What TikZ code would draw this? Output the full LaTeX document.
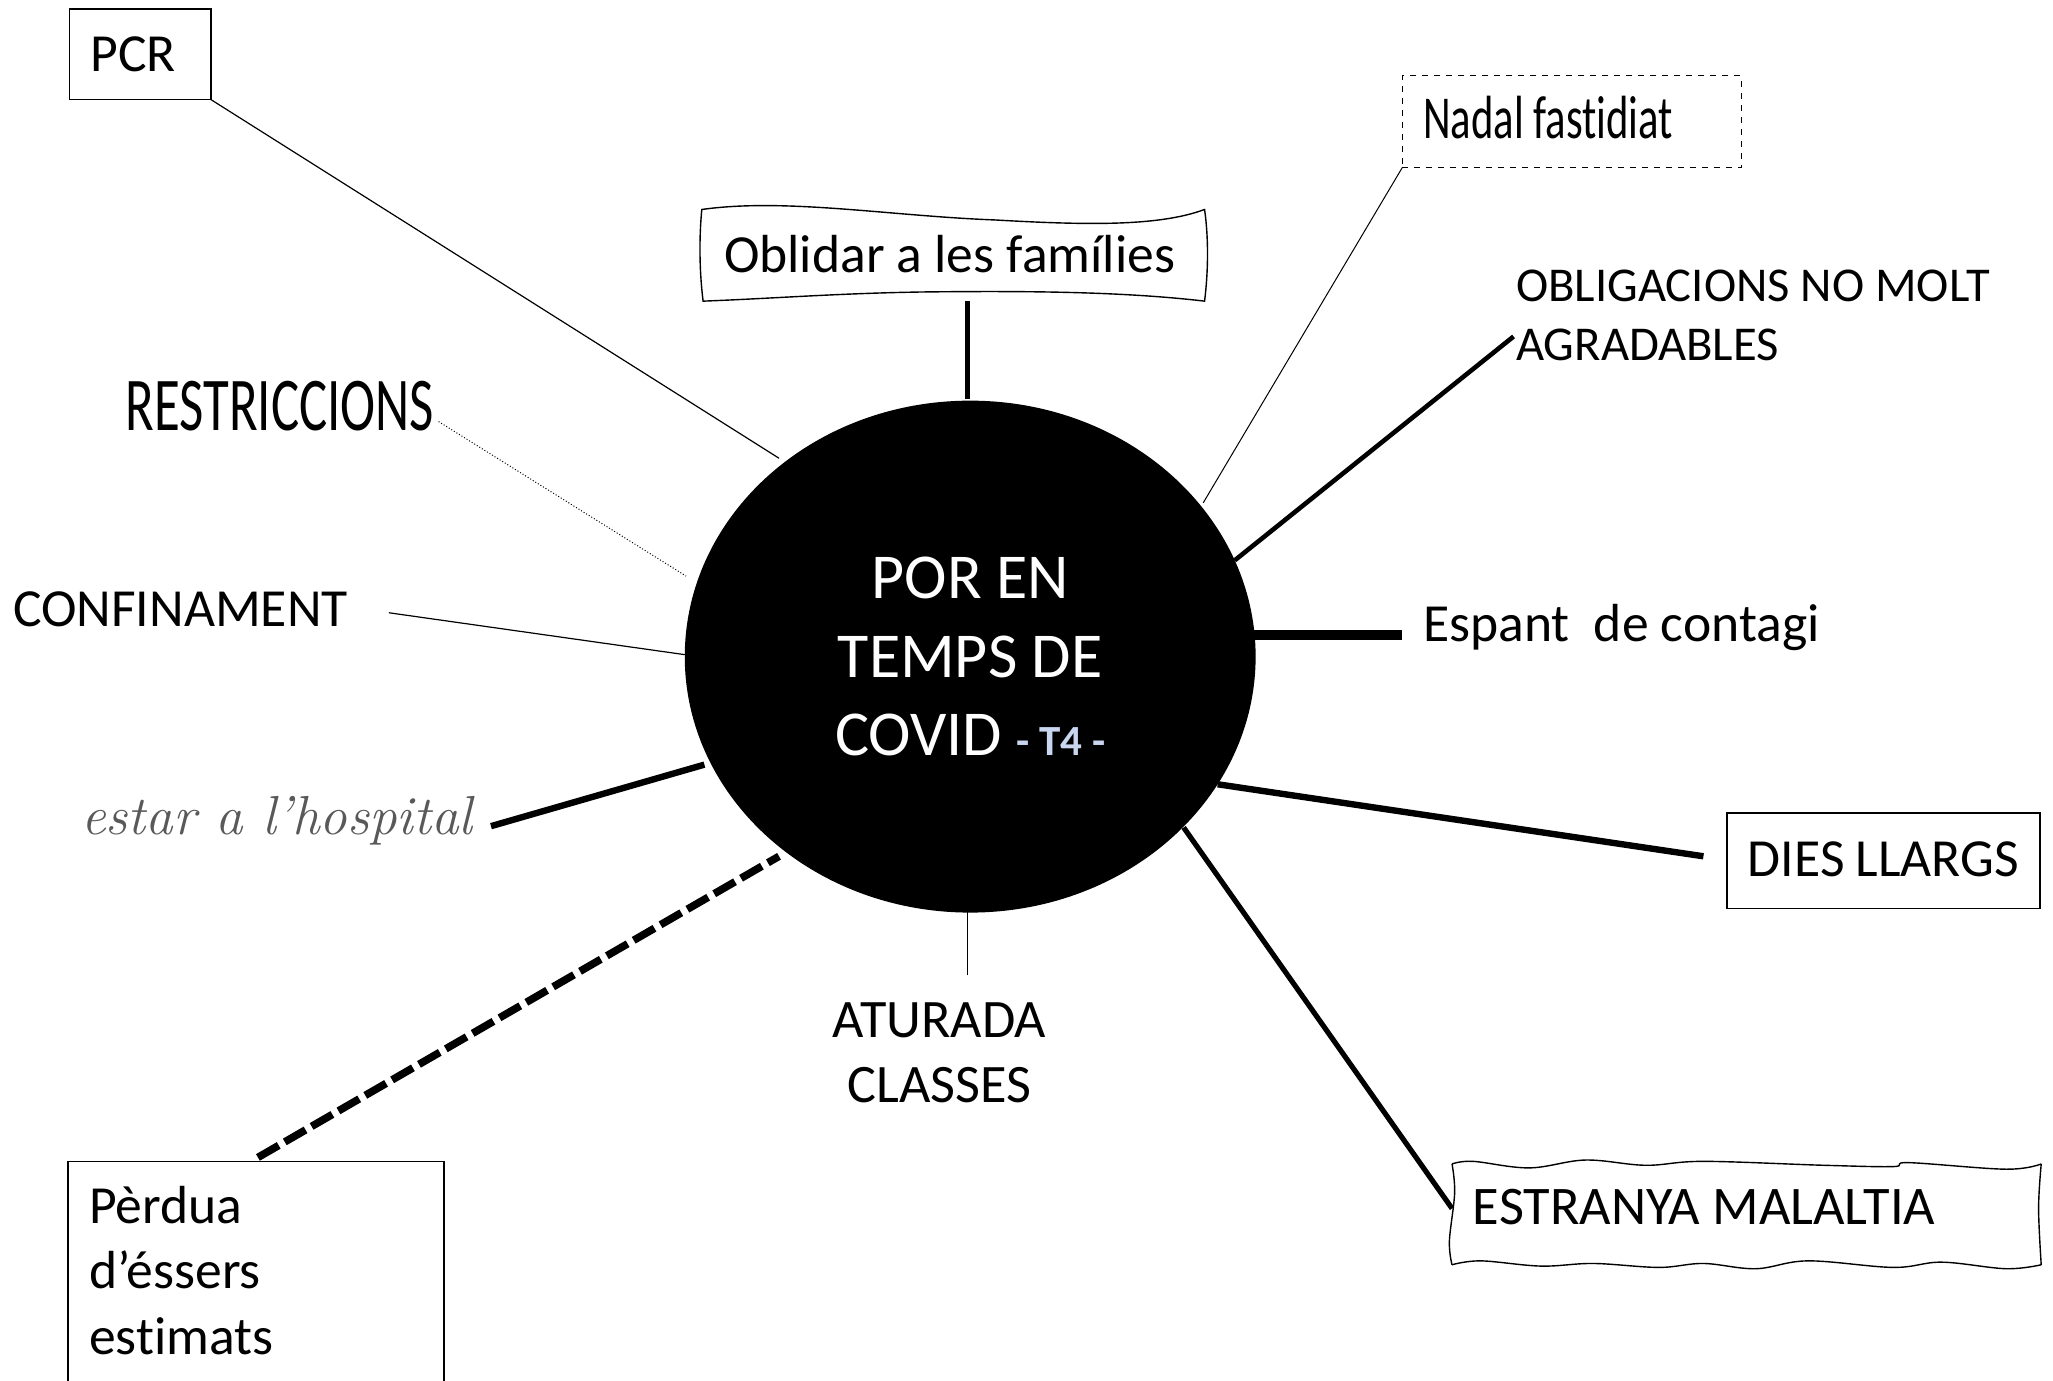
\documentclass[tikz,border=0pt]{standalone}
\usepackage{fontspec}
\usetikzlibrary{shapes.geometric}
\newfontfamily\calfont[Ligatures=NoCommon]{Carlito}
\newfontfamily\narrowfont[FakeStretch=0.70,Ligatures=NoCommon]{Carlito}
\newfontfamily\handfont[FakeStretch=0.695,Ligatures=NoCommon]{Carlito}
\newcommand{\cursfont}{\rmfamily\itshape\addfontfeatures{LetterSpace=6}}
\newcommand{\uu}{0.65466pt}
\definecolor{tfour}{HTML}{C9D6F0}
\tikzset{
  every node/.style={inner sep=0pt,outer sep=0pt},
  label text/.style={anchor=west,align=flush left,text=black,font=\calfont\fontsize{26.8}{32.8}\selectfont},
  boxed/.style={draw=black,line width=0.7pt,rectangle},
  hairline/.style={draw=black,line width=0.6pt},
  medline/.style={draw=black,line width=2.3pt},
  heavyline/.style={draw=black,line width=3.2pt},
  wavy outline/.style={line width=0.7pt},
}
\begin{document}
\begin{tikzpicture}[x=\uu,y=-\uu]
\useasboundingbox (0,0) rectangle (1568,1054.7);
\clip (0,0) rectangle (1568,1054.7);
% hub
\node[ellipse,fill=black,minimum width=436*\uu,minimum height=391*\uu,align=center,text=white,
  font=\calfont\fontsize{32}{39.4}\selectfont] (hub) at (741,501.5)
  {POR EN\\TEMPS DE\\COVID {\fontsize{21.5}{21.5}\selectfont\bfseries\color{tfour} - T4 -}};
% boxed labels
\node[boxed,label text,anchor=north west,minimum width=108*\uu,minimum height=69*\uu,text width=76*\uu,inner xsep=16*\uu] (pcr) at (53,7) {PCR};
\node[boxed,label text,anchor=north west,dashed,line width=0.5pt,minimum width=259*\uu,minimum height=70*\uu,text width=227*\uu,inner xsep=16*\uu,font=\narrowfont\fontsize{30.5}{30}\selectfont] (nadal) at (1071,58) {Nadal fastidiat\\[-25.2pt]\mbox{}};
\node[boxed,label text,anchor=north west,minimum width=239*\uu,minimum height=73*\uu,text width=207*\uu,inner xsep=16*\uu] (dies) at (1319,621) {DIES LLARGS\\[-31.5pt]\mbox{}};
\node[boxed,label text,anchor=north west,minimum width=287*\uu,minimum height=180*\uu,text width=255*\uu,inner xsep=16*\uu] (perdua) at (52,887) {P\`erdua\\d’\'essers\\estimats\\[-23.8pt]\mbox{}};
% wavy boxes
\draw[wavy outline] (536,160) .. controls (600,151) and (680,165) .. (760,168)
  .. controls (830,172) and (885,173) .. (920,160)
  .. controls (923,181) and (923,206) .. (920,230)
  .. controls (860,223) and (790,222) .. (705,223)
  .. controls (640,224) and (590,228) .. (537,230)
  .. controls (534,206) and (534,181) .. (536,160) -- cycle;
\begin{scope}[yshift=-0.65pt,xshift=0.65pt]
\draw[wavy outline] plot[smooth,tension=.6] coordinates {(1108,888)(1124,886)(1167,891)(1210,885)(1256,889)(1300,886)(1392,889)(1445,890)(1457,887)(1531,892)(1558,888)};
\draw[wavy outline] plot[smooth,tension=.6] coordinates {(1108,965)(1130,962)(1176,966)(1216,964)(1266,967)(1300,964)(1340,968)(1380,962)(1445,967)(1482,963)(1531,968)(1558,965)};
\draw[wavy outline] plot[smooth,tension=.6] coordinates {(1108,888)(1110,910)(1106,947)(1108,965)};
\draw[wavy outline] plot[smooth,tension=.6] coordinates {(1558,888)(1556,922)(1558,965)};
\end{scope}
\node[label text] (oblidar) at (553,194) {Oblidar a les fam\'ilies};
\node[label text,font=\calfont\fontsize{27.2}{32.8}\selectfont] (estranya) at (1125,922) {ESTRANYA MALALTIA};
% free labels
\node[label text,font=\calfont\fontsize{24.3}{29.5}\selectfont] (oblig) at (1158,241) {OBLIGACIONS NO MOLT\\AGRADABLES};
\node[label text] (espant) at (1087,479) {Espant\ \ de contagi};
\node[label text,align=center,anchor=center,font=\calfont\fontsize{27.1}{32.8}\selectfont] (aturada) at (717.5,804) {ATURADA\\CLASSES};
\node[label text] (confi) at (10,465) {CONFINAMENT};
\node[label text,font=\handfont\fontsize{38}{40}\selectfont] (restr) at (96,310) {RESTRICCIONS};
\node[label text,text=black!65,font=\fontsize{27.5}{30}\selectfont\cursfont] (estar) at (62,627) {estar a l'hospital};
% connector end points
\coordinate (hubA) at (595,350);
\coordinate (hubB) at (739,305);
\coordinate (hubC) at (919,384);
\coordinate (hubD) at (943,428);
\coordinate (hubE) at (958,485);
\coordinate (hubF) at (930,599);
\coordinate (hubG) at (904,632);
\coordinate (hubH) at (739,696);
\coordinate (hubI) at (595,654);
\coordinate (hubJ) at (538,584);
\coordinate (hubK) at (523,500);
\coordinate (hubL) at (524,440);
\coordinate (oblidarS) at (739,230);
\coordinate (obligW) at (1156,257);
\coordinate (espantW) at (1071,485);
\coordinate (diesW) at (1301,654);
\coordinate (estranyaW) at (1109,923);
\coordinate (aturadaN) at (739,745);
\coordinate (perduaN) at (197,884);
\coordinate (estarE) at (375,631);
\coordinate (confiE) at (297,468);
\coordinate (restrE) at (335,322);
% connectors
\draw[hairline] (pcr.south east) -- (hubA);
\draw[heavyline,line width=2.6pt] (oblidarS) -- (hubB);
\draw[hairline,line width=0.5pt] (nadal.south west) -- (hubC);
\draw[medline] (obligW) -- (hubD);
\draw[draw=black,line width=5pt] (espantW) -- (hubE);
\draw[heavyline] (diesW) -- (hubF);
\draw[medline,line width=2.6pt] (estranyaW) -- (hubG);
\draw[hairline] (aturadaN) -- (hubH);
\draw[heavyline,line width=3.8pt,dash pattern=on 12pt off 3.5pt] (perduaN) -- (hubI);
\draw[heavyline] (estarE) -- (hubJ);
\draw[hairline] (confiE) -- (hubK);
\draw[draw=black,line width=0.5pt,densely dotted] (restrE) -- (hubL);
\end{tikzpicture}
\end{document}
